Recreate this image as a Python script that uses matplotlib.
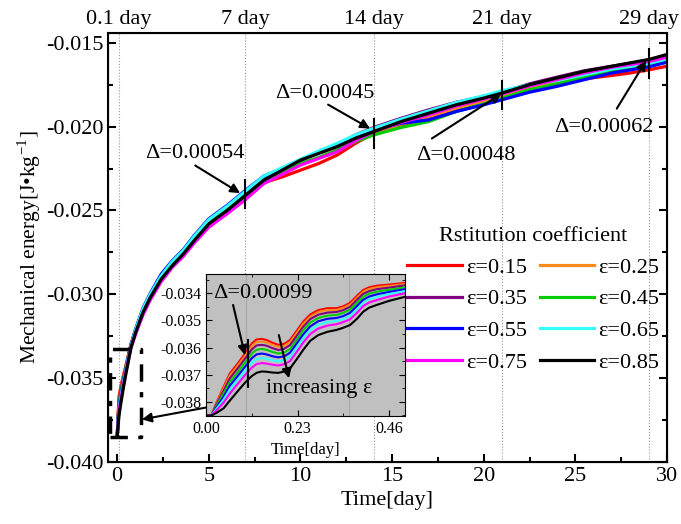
import matplotlib
matplotlib.use('Agg')
import matplotlib.pyplot as plt
from matplotlib.ticker import MultipleLocator, FormatStrFormatter
import numpy as np

plt.rcParams['font.family'] = ['Liberation Serif', 'DejaVu Serif']
plt.rcParams['mathtext.fontset'] = 'stix'
plt.rcParams['axes.unicode_minus'] = False

# ---- main plot data (energy in units of 1e-4 J/kg) ----
days = [0, 0.1, 0.2, 0.35, 0.5, 0.75, 1.0, 1.4, 1.8, 2.4, 3.0, 3.6, 4.2, 5.0, 6.0,
        7.0, 8.0, 9.0, 10.0, 11.0, 12.0, 13.0, 14.0, 15.5, 17.0, 18.5, 20.0, 21.0,
        22.5, 24.0, 25.5, 27.0, 28.0, 29.0, 30.0]
e015 = [-385, -361, -355, -348, -341.5, -330, -322, -310, -301.5, -290, -282, -275.5,
        -267, -257.5, -249.5, -241, -233.5, -230, -226, -222, -217, -210, -204, -199,
        -195, -189.5, -185, -181.6, -177.5, -174.5, -171.5, -169.5, -168, -166.2, -164]
e025 = [-385, -362, -356, -348.5, -342, -330, -321, -309, -300, -288.5, -281, -274,
        -266, -256.5, -248, -239.5, -231, -227, -222, -218.5, -214, -208.5, -204, -198.5,
        -194, -189, -185, -182, -177.5, -174, -170, -166.5, -164.8, -163, -160.2]
e035 = [-385, -363.5, -357, -349.5, -342.5, -330, -321.5, -309.5, -301, -289.5, -281.5,
        -275, -266.5, -256.5, -248, -239, -230.5, -225.5, -220, -215.5, -211, -205, -200.5,
        -195, -190, -185.5, -182, -179.5, -174.5, -170.5, -166.7, -164, -162.2, -160.3, -157.6]
e045 = [-385, -365, -358.5, -350.5, -343, -330.5, -322, -310, -301.5, -290, -282, -275.5,
        -267, -257, -249, -241, -232, -227, -222, -218.5, -214, -209, -205, -200.5, -197,
        -191, -186.5, -183, -178, -174.5, -170.5, -167, -165, -163.3, -160.6]
e055 = [-385, -366.5, -360, -351.5, -343.5, -330.5, -321, -308.5, -299.5, -288, -280,
        -273.5, -265, -255, -247, -238, -229.5, -225, -220, -215.5, -211, -206, -202, -198,
        -196, -191, -187, -184, -179.5, -176, -172, -168, -166.2, -164.4, -161.6]
e065 = [-385, -368, -361.5, -352.5, -344, -331, -321.5, -309, -300, -289, -280.5, -274,
        -265.5, -255.5, -247.5, -238.5, -229.5, -224.5, -219.5, -214.5, -210, -205, -201,
        -195.5, -190.6, -185.6, -181.6, -178.6, -175, -172.5, -169, -165.6, -164, -162.3, -159.6]
e075 = [-385, -369.5, -362.8, -353.5, -345, -332, -324, -312.5, -303.5, -292.5, -284,
        -277.5, -269.5, -260, -252, -243.5, -234, -228.5, -223, -219, -215, -208.5, -203,
        -197.5, -193, -187.8, -183.6, -180.6, -175.8, -172, -168, -164.6, -163, -161.3, -158.6]
e085 = [-385, -372, -365, -355, -346, -332, -323, -311, -302, -291, -283, -276, -268,
        -258, -250, -241, -232, -226, -220, -216, -212, -207, -203, -197, -192, -187, -183,
        -180, -175, -171, -167, -164, -162, -160, -157]

# ---- inset data (first half day, units of 1e-4 J/kg) ----
days_in = [0, 0.014, 0.027, 0.044, 0.06, 0.08, 0.1, 0.115, 0.127, 0.14, 0.152, 0.167,
           0.182, 0.197, 0.211, 0.227, 0.244, 0.262, 0.282, 0.305, 0.328, 0.345, 0.362,
           0.38, 0.395, 0.41, 0.429, 0.46, 0.5]
i015 = [-385, -384.8, -380, -374.5, -369.5, -365.8, -361.8, -358.5, -357, -356.8, -357.2,
        -358.2, -359, -358.6, -357.2, -354, -350.5, -347.8, -346.2, -345.5, -345.5, -344.8,
        -343.5, -340.8, -338.8, -337.8, -337.2, -336.8, -336.2]
i025 = [-385, -384.8, -380.3, -375.1, -370.3, -366.6, -362.7, -359.5, -358, -357.8, -358.1,
        -359.1, -359.8, -359.4, -358, -354.8, -351.3, -348.6, -346.9, -346.2, -346.1, -345.4,
        -344.2, -341.5, -339.4, -338.4, -337.8, -337.3, -336.6]
i035 = [-385, -384.8, -380.7, -375.9, -371.3, -367.6, -363.7, -360.7, -359.2, -359, -359.3,
        -360.2, -360.9, -360.4, -359.1, -355.9, -352.4, -349.5, -347.9, -347.1, -346.9, -346.2,
        -345, -342.3, -340.2, -339.2, -338.5, -337.9, -337.1]
i045 = [-385, -384.9, -381.2, -376.9, -372.6, -369, -365.1, -362.2, -360.8, -360.5, -360.8,
        -361.6, -362.2, -361.8, -360.5, -357.3, -353.7, -350.8, -349.1, -348.2, -348, -347.2,
        -346, -343.4, -341.3, -340.1, -339.4, -338.7, -337.8]
i055 = [-385, -384.9, -381.8, -378.1, -374, -370.4, -366.7, -363.9, -362.5, -362.2, -362.5,
        -363.2, -363.6, -363.2, -361.9, -358.7, -355.2, -352.2, -350.3, -349.4, -349.1, -348.4,
        -347.2, -344.6, -342.4, -341.2, -340.4, -339.5, -338.5]
i065 = [-385, -384.9, -382.4, -379.2, -375.4, -371.8, -368.2, -365.6, -364.3, -363.9, -364.1,
        -364.7, -365.1, -364.6, -363.4, -360.2, -356.6, -353.5, -351.6, -350.6, -350.2, -349.5,
        -348.3, -345.8, -343.5, -342.2, -341.4, -340.3, -339.2]
i075 = [-385, -384.9, -383, -380.3, -376.9, -373.3, -369.8, -367.4, -366.1, -365.7, -365.9,
        -366.3, -366.6, -366.1, -365, -361.8, -358.2, -355, -353, -351.9, -351.4, -350.6,
        -349.6, -347.1, -344.7, -343.4, -342.5, -341.2, -340]
i085 = [-385, -385, -384, -382.4, -379.5, -376, -372.6, -370.5, -369.3, -368.8, -368.9,
        -369.2, -369.3, -368.8, -367.7, -364.5, -360.9, -357.5, -355.4, -354.2, -353.5, -352.7,
        -351.7, -349.3, -346.8, -345.3, -344.3, -342.8, -341.3]

labels = ['ε=0.15', 'ε=0.25', 'ε=0.35', 'ε=0.45', 'ε=0.55', 'ε=0.65', 'ε=0.75', 'ε=0.85']
colors = ['#ff0000', '#ff8c1a', '#800080', '#00cc00', '#0000ff', '#33ffff', '#ff00ff', '#000000']
main_series = [e015, e025, e035, e045, e055, e065, e075, e085]
inset_series = [i015, i025, i035, i045, i055, i065, i075, i085]

mark_days = [0.1, 7, 14, 21, 29]
mark_labels = ['0.1 day', '7 day', '14 day', '21 day', '29 day']

fig = plt.figure(figsize=(6.81, 5.24), dpi=100)
ax = fig.add_axes([0.1586, 0.1183, 0.8208, 0.8187])

for d in mark_days:
    ax.axvline(d, color='#999999', ls=':', lw=0.8, zorder=0)

lines = []
for vals, c, lab in zip(main_series, colors, labels):
    ln, = ax.plot(days, np.array(vals) * 1e-4, color=c, lw=2.3, label=lab)
    lines.append(ln)

ax.set_xlim(-0.5, 30)
ax.set_ylim(-0.040, -0.01442)
ax.xaxis.set_major_locator(MultipleLocator(5))
ax.xaxis.set_minor_locator(MultipleLocator(2.5))
ax.yaxis.set_major_locator(MultipleLocator(0.005))
ax.yaxis.set_minor_locator(MultipleLocator(0.0025))
ax.yaxis.set_major_formatter(FormatStrFormatter('%.3f'))
ax.tick_params(which='both', direction='in', top=True, right=True, width=1.5)
ax.tick_params(which='major', length=6, labelsize=16)
ax.tick_params(which='minor', length=3.5)
for s in ax.spines.values():
    s.set_linewidth(1.5)
ax.set_xlabel('Time[day]', fontsize=16, labelpad=4)
ax.set_ylabel(r'Mechanical energy[J•kg$^{\mathregular{-1}}$]', fontsize=15.5, labelpad=2)

ax2 = ax.twiny()
ax2.set_xlim(ax.get_xlim())
ax2.set_xticks(mark_days)
ax2.set_xticklabels(mark_labels, fontsize=16)
ax2.tick_params(length=0, pad=3)

# difference markers and arrows
bars = [(7, -0.02488, -0.02321), (14, -0.02125, -0.01952),
        (21, -0.01893, -0.01726), (29, -0.01708, -0.01536)]
for x, y0, y1 in bars:
    ax.plot([x, x], [y0, y1], color='k', lw=1.5)

notes = [('Δ=0.00054', (4.26, -0.02161), (4.26, -0.02232), (6.71, -0.02397)),
         ('Δ=0.00045', (11.35, -0.01804), (11.51, -0.01869), (13.8, -0.02012)),
         ('Δ=0.00048', (19.01, -0.02173), (17.17, -0.02071), (20.95, -0.01805)),
         ('Δ=0.00062', (26.57, -0.02006), (27.26, -0.01893), (28.86, -0.01607))]
arrow = dict(arrowstyle='-|>', color='k', lw=1.5, mutation_scale=14, shrinkA=0, shrinkB=0)
for txt, tpos, a0, a1 in notes:
    ax.text(tpos[0], tpos[1], txt, fontsize=16, ha='center', va='center')
    ax.annotate('', xy=a1, xytext=a0, arrowprops=arrow)

# dash-dot zoom box and pointer
ax.plot([-0.38, 1.29, 1.29, -0.38, -0.38], [-0.03851, -0.03851, -0.03327, -0.03327, -0.03851],
        color='k', lw=2.5, dashes=(5, 3, 1.5, 3))
ax.annotate('', xy=(1.35, -0.03746), xytext=(5.2, -0.03668), arrowprops=arrow)

# legend filled row by row: 0.15 0.25 / 0.35 0.45 / ...
order = [0, 2, 4, 6, 1, 3, 5, 7]
ax.legend([lines[i] for i in order], [labels[i] for i in order],
          loc='upper left', bbox_to_anchor=(0.582, 0.588), bbox_transform=fig.transFigure,
          ncol=2, frameon=False, fontsize=16, title='Rstitution coefficient',
          title_fontsize=16, handlelength=2.45, handletextpad=0.2, columnspacing=0.55,
          labelspacing=0.5, borderpad=0)

# ---- inset ----
axi = fig.add_axes([0.3025, 0.2061, 0.2922, 0.271])
axi.set_facecolor('#c0c0c0')
for d in [0.1, 0.36]:
    axi.axvline(d, color='#a8a8a8', lw=0.8, zorder=0)
for vals, c in zip(inset_series, colors):
    axi.plot(days_in, np.array(vals) * 1e-4, color=c, lw=1.5)
axi.set_xlim(0, 0.5)
axi.set_ylim(-0.03852, -0.03329)
axi.set_xticks([0, 0.23, 0.46])
axi.xaxis.set_major_formatter(FormatStrFormatter('%.2f'))
axi.xaxis.set_minor_locator(MultipleLocator(0.115))
axi.yaxis.set_major_locator(MultipleLocator(0.001))
axi.yaxis.set_minor_locator(MultipleLocator(0.0005))
axi.yaxis.set_major_formatter(FormatStrFormatter('%.3f'))
axi.tick_params(which='both', direction='in', top=True, right=True, labelsize=11.5)
axi.tick_params(which='major', length=4)
axi.tick_params(which='minor', length=2)
axi.set_xlabel('Time[day]', fontsize=12, labelpad=4)
axi.plot([0.105, 0.105], [-0.03745, -0.03573], color='k', lw=1.5)
axi.text(0.018, -0.0340, 'Δ=0.00099', fontsize=16, ha='left', va='center')
axi.text(0.152, -0.03749, 'increasing ε', fontsize=16, ha='left', va='center')
axi.annotate('', xy=(0.098, -0.03628), xytext=(0.068, -0.03443), arrowprops=arrow)
axi.annotate('', xy=(0.2085, -0.03713), xytext=(0.183, -0.03554), arrowprops=arrow)

fig.savefig('out.png', dpi=100)
